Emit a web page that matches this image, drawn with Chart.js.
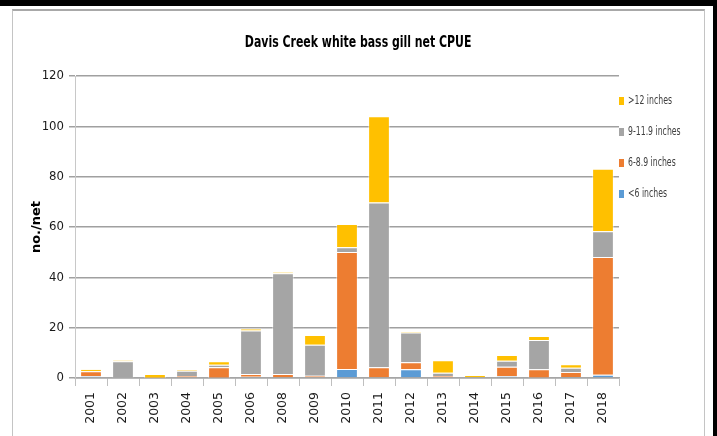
<!DOCTYPE html>
<html>
<head>
    <title>Davis Creek white bass gill net CPUE</title>
    <script src="https://cdn.jsdelivr.net/npm/chart.js"></script>
    <style>
        body {
            margin: 0;
            background-color: #fff;
            width: 717px;
            height: 436px;
            overflow: hidden;
            position: relative;
        }

        /* black frame pieces around the screenshot */
        .band-top {
            position: absolute;
            left: 0; top: 0;
            width: 717px; height: 6px;
            background: #000;
        }
        .band-right {
            position: absolute;
            left: 713px; top: 0;
            width: 4px; height: 436px;
            background: #000;
        }

        .chart-box {
            position: absolute;
            left: 12px; top: 9px;
            width: 691px; height: 440px;
            border: 1px solid #c4c4c4;
            border-top: 2px solid #a8a8a8;
            background: #fff;
        }

        .chart-wrap {
            position: absolute;
            left: 1px; top: 0;
            width: 690px; height: 425px;
        }

        /* title squeezed like the original Calibri text */
        .chart-title {
            position: absolute;
            left: 0; top: 21px;
            width: 691px;
            text-align: center;
            font-family: "Liberation Sans Narrow", "DejaVu Sans Condensed", sans-serif;
            font-size: 16px;
            font-weight: bold;
            color: #000;
            line-height: 20px;
        }
        .chart-title span {
            display: inline-block;
            transform: scaleX(0.76);
            transform-origin: center center;
        }

        .legend {
            position: absolute;
            left: 606px; top: 83px;
            font-family: "Liberation Sans Narrow", "DejaVu Sans Condensed", sans-serif;
            font-size: 12px;
            color: #404040;
        }
        .legend-item {
            position: absolute;
            left: 0;
            white-space: nowrap;
            height: 12px;
            line-height: 12px;
        }
        .legend-item span.sw {
            display: inline-block;
            width: 5px; height: 8px;
            margin-right: 4px;
            vertical-align: -1px;
        }
        .legend-item span.tx {
            display: inline-block;
            transform: scaleX(0.72);
            transform-origin: left center;
        }
    </style>
</head>
<body>
    <div class="band-top"></div>
    <div class="band-right"></div>
    <div class="chart-box">
        <div class="chart-wrap"><canvas id="cpueChart"></canvas></div>
        <div class="chart-title"><span id="chartTitle"></span></div>
        <div class="legend" id="legend"></div>
    </div>

    <script>
        var chartTitle = 'Davis Creek white bass gill net CPUE';

        // years sampled (no 2007)
        var years = ['2001', '2002', '2003', '2004', '2005', '2006', '2008', '2009', '2010',
                     '2011', '2012', '2013', '2014', '2015', '2016', '2017', '2018'];

        // CPUE (no./net) by length group
        var under6   = [0.7, 0,   0,   0,   0.1, 0.5, 0,    0,    3.6,  0,    3.5,  0.3, 0,   0.7, 0.2,  0.4, 1.3];
        var from6    = [2.0, 0.2, 0.1, 0.8, 4.2, 1.1, 1.6,  0.9,  46.5, 4.3,  2.8,  0.5, 0.3, 3.8, 3.3,  2.0, 46.8];
        var from9    = [0.1, 6.5, 0,   2.1, 1.0, 17.3, 40.0, 12.3, 1.9, 65.4, 11.8, 1.3, 0,   2.4, 11.6, 1.7, 10.2];
        var over12   = [0.8, 0.4, 1.5, 0.3, 1.4, 0.8, 0.5,  3.9,  9.2,  34.3, 0.4,  5.0, 0.9, 2.2, 1.6,  1.4, 24.8];

        var seriesNames  = ['<6 inches', '6-8.9 inches', '9-11.9 inches', '>12 inches'];
        var seriesColors = ['#5B9BD5', '#ED7D31', '#A5A5A5', '#FFC000'];
        var seriesData   = [under6, from6, from9, over12];

        var yTicks = [0, 20, 40, 60, 80, 100, 120];

        document.getElementById('chartTitle').textContent = chartTitle;

        var datasets = seriesData.map(function (d, i) {
            return {
                label: seriesNames[i],
                data: d,
                backgroundColor: seriesColors[i],
                borderColor: 'rgba(255,255,255,0.45)',
                borderWidth: 1,
                categoryPercentage: 1,
                barPercentage: 0.68
            };
        });

        var ctx = document.getElementById('cpueChart').getContext('2d');
        var cpueChart = new Chart(ctx, {
            type: 'bar',
            data: { labels: years, datasets: datasets },
            options: {
                responsive: true,
                maintainAspectRatio: false,
                animation: false,
                layout: { padding: { left: 10, right: 85, top: 65, bottom: 6 } },
                plugins: {
                    legend: { display: false },
                    tooltip: { enabled: false },
                    title: { display: false }
                },
                scales: {
                    x: {
                        stacked: true,
                        grid: {
                            display: true,
                            drawOnChartArea: false,
                            drawTicks: true,
                            tickLength: 8,
                            color: '#bfbfbf',
                            offset: true
                        },
                        border: { display: true, color: '#a6a6a6', width: 1.5 },
                        ticks: {
                            maxRotation: 90,
                            minRotation: 90,
                            padding: 6,
                            color: '#1a1a1a',
                            font: { family: '"DejaVu Sans", sans-serif', size: 12.5 }
                        },
                        afterFit: function (scale) { scale.height = 52; }
                    },
                    y: {
                        stacked: true,
                        min: 0,
                        max: 120,
                        afterBuildTicks: function (scale) {
                            scale.ticks = yTicks.map(function (v) { return { value: v }; });
                        },
                        grid: {
                            color: '#a0a0a0',
                            lineWidth: 1.5,
                            tickLength: 6
                        },
                        border: { display: true, color: '#c8c8c8', width: 1 },
                        ticks: {
                            padding: 5,
                            color: '#1a1a1a',
                            font: { family: '"Liberation Sans Narrow", "DejaVu Sans Condensed", sans-serif', size: 13 }
                        },
                        title: {
                            display: true,
                            text: 'no./net',
                            color: '#000',
                            padding: { top: 5, bottom: 0 },
                            font: { family: '"DejaVu Sans", sans-serif', size: 13, weight: 'bold' }
                        },
                        afterFit: function (scale) { scale.width = 51; }
                    }
                }
            }
        });

        // legend on the right, largest size group first as in the original
        var legendEl = document.getElementById('legend');
        var legendTops = [0, 31, 62, 93];
        for (var i = seriesNames.length - 1, k = 0; i >= 0; i--, k++) {
            var item = document.createElement('div');
            item.className = 'legend-item';
            item.style.top = legendTops[k] + 'px';
            item.innerHTML = '<span class="sw" style="background:' + seriesColors[i] + '"></span>' +
                             '<span class="tx"></span>';
            item.querySelector('.tx').textContent = seriesNames[i];
            legendEl.appendChild(item);
        }
    </script>
</body>
</html>
